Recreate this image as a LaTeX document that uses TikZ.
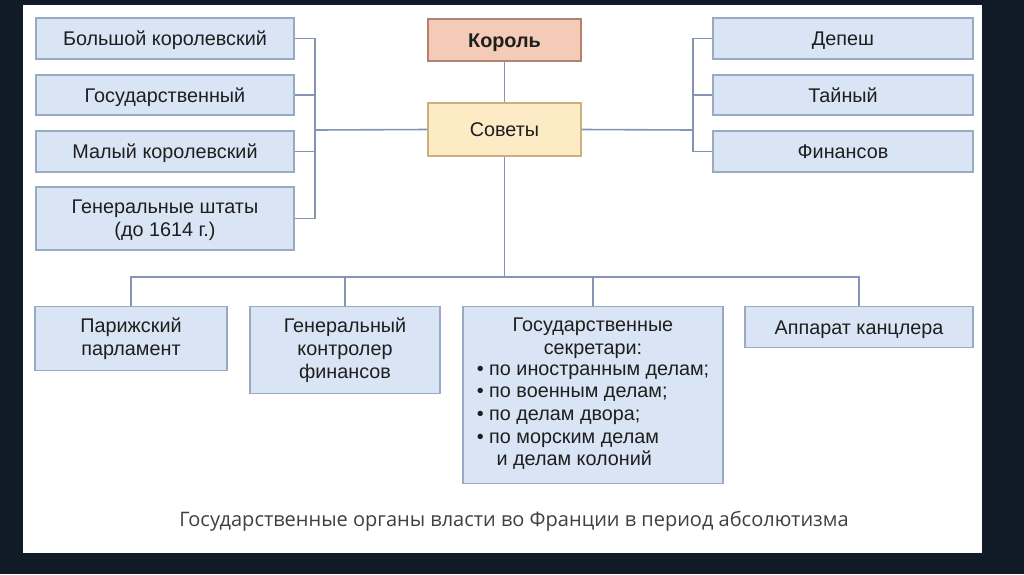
\documentclass[tikz,border=0pt]{standalone}
\usepackage{fontspec}
\setmainfont{Liberation Sans}
\newfontfamily\capfont{Open Sans}
\usetikzlibrary{positioning, calc}

\definecolor{bgdark}{HTML}{101B27}
\definecolor{boxfill}{HTML}{D9E5F5}
\definecolor{boxline}{HTML}{98AAC4}
\definecolor{kingfill}{HTML}{F3CBB7}
\definecolor{kingline}{HTML}{B8806C}
\definecolor{councilfill}{HTML}{FDEBC6}
\definecolor{councilline}{HTML}{CFAE80}
\definecolor{linkline}{HTML}{8394B4}
\definecolor{txt}{HTML}{1E1E1E}

\tikzset{
  box/.style={draw=boxline, fill=boxfill, line width=1.3pt, text=txt,
    inner sep=2pt, align=center, font=\fontsize{19.8}{22.7}\selectfont},
  oneline/.style={text height=14.2pt, text depth=0pt},
  king/.style={box, oneline, draw=kingline, fill=kingfill, font=\fontsize{19.8}{22.7}\selectfont\bfseries},
  council/.style={box, oneline, draw=councilline, fill=councilfill},
  link/.style={draw=linkline, line width=1.6pt}
}

\begin{document}
\begin{tikzpicture}[x=1pt, y=-1pt]
  \fill[bgdark] (0,0) rectangle (1024,574);
  \useasboundingbox (0,0) rectangle (1024,574);
  \fill[white] (23,5) rectangle (982,553);

  % king and councils
  \node[king, minimum width=153pt, minimum height=42pt] (korol) at (504.5,40) {Король};
  \node[council, minimum width=153pt, minimum height=53pt] (sovety) at (504.5,129.5) {Советы};

  % left councils
  \node[box, oneline, minimum width=258pt, minimum height=41pt] (bolsh) at (165,38.5) {Большой королевский};
  \node[box, oneline, minimum width=258pt, minimum height=40pt] (gosud) at (165,95) {Государственный};
  \node[box, oneline, minimum width=258pt, minimum height=41pt] (maly) at (165,151.5) {Малый королевский};
  \node[box, text depth=0pt, minimum width=258pt, minimum height=63pt] (genst) at (165,218.5) {Генеральные штаты\\(до 1614 г.)};

  % right councils
  \node[box, oneline, minimum width=260pt, minimum height=41pt] (depesh) at (843,38.5) {Депеш};
  \node[box, oneline, minimum width=260pt, minimum height=40pt] (tainy) at (843,95) {Тайный};
  \node[box, oneline, minimum width=260pt, minimum height=41pt] (finans) at (843,151.5) {Финансов};

  % lower institutions
  \node[box, anchor=north, minimum width=192pt, minimum height=64pt] (parl) at (131,306) {Парижский\\парламент};
  \node[box, anchor=north, minimum width=190pt, minimum height=87pt] (kontr) at (345,306) {Генеральный\\контролер\\финансов};
  \node[box, anchor=north, minimum width=260pt, minimum height=177pt] (sekr) at (593,306)
    {Государственные\\секретари:\\
     \begin{tabular}{@{}l@{}}
       • по иностранным делам;\\
       • по военным делам;\\
       • по делам двора;\\
       • по морским делам\\
       \hspace*{1em}и делам колоний
     \end{tabular}};
  \node[box, oneline, anchor=north, minimum width=228pt, minimum height=41pt] (kancl) at (859,306) {Аппарат канцлера};

  \node[text=txt!85, font=\capfont\fontsize{20}{24}\selectfont] (caption) at (514,521)
    {Государственные органы власти во Франции в период абсолютизма};

  % connectors
  \coordinate (lbr) at (315,130);
  \coordinate (rbr) at (693,130);
  \coordinate (bus) at (504.5,277);
  \draw[link] (korol) -- (sovety);
  \draw[link] (sovety.west) -- (lbr);
  \draw[link] (bolsh.east) -| (lbr |- genst.east) -- (genst.east);
  \draw[link] (gosud.east) -- (gosud.east -| lbr);
  \draw[link] (maly.east) -- (maly.east -| lbr);
  \draw[link] (sovety.east) -- (rbr);
  \draw[link] (depesh.west) -| (rbr |- finans.west) -- (finans.west);
  \draw[link] (tainy.west) -- (tainy.west -| rbr);
  \draw[link] (sovety.south) -- (bus);
  \draw[link] (parl.north) -- (parl.north |- bus) -- (kancl.north |- bus) -- (kancl.north);
  \draw[link] (kontr.north) -- (kontr.north |- bus);
  \draw[link] (sekr.north) -- (sekr.north |- bus);
\end{tikzpicture}
\end{document}
